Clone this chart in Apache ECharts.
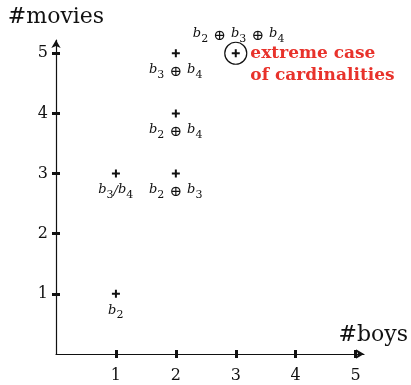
<!DOCTYPE html>
<html><head><meta charset="utf-8">
<script src="https://cdn.jsdelivr.net/npm/echarts@6/dist/echarts.min.js"></script>
<style>html,body{margin:0;padding:0;background:#fff}#c{width:411px;height:385px}</style>
</head><body><div id="c"></div>
<script>
const xTicks = [1, 2, 3, 4, 5];
const yTicks = [1, 2, 3, 4, 5];
const boys = [1, 1, 2, 2, 2, 3];
const movies = [1, 3, 3, 4, 5, 5];
const pointLabels = ['b_2', 'b_3/b_4', 'b_2 ⊕ b_3', 'b_2 ⊕ b_4', 'b_3 ⊕ b_4', 'b_2 ⊕ b_3 ⊕ b_4'];
const extremeIndex = 5;
const annotation = 'extreme case\nof cardinalities';
const xName = '#boys';
const yName = '#movies';

const FONT = 'DejaVu Serif';
const INK = '#111';
const plus = 'path://M3,0H5V3H8V5H5V8H3V5H0V3H3Z';

// turn "b_2 ⊕ b_3" into rich text pieces
function toRich(s) {
  return s.split(' ').map(tok => {
    if (tok === '⊕') return '{o|⊕}';
    return tok.split('/').map(part => {
      const m = part.match(/^(\w)_(\w)$/);
      return m ? '{v|' + m[1] + '}{s|' + m[2] + '}' : '{v|' + part + '}';
    }).join('{sl|/}');
  }).join('{sp| }') + '{z| }';
}

const rich = {
  v: { fontFamily: FONT, fontStyle: 'italic', fontSize: 13, color: INK, lineHeight: 15, verticalAlign: 'top' },
  s: { fontFamily: FONT, fontSize: 11, color: INK, lineHeight: 13, verticalAlign: 'bottom' },
  o: { fontFamily: FONT, fontSize: 15, color: INK, lineHeight: 17, verticalAlign: 'middle', padding: [0, 1, 0, 1] },
  sl: { fontFamily: FONT, fontStyle: 'italic', fontSize: 13, color: INK, lineHeight: 17, verticalAlign: 'middle' },
  sp: { fontFamily: FONT, fontSize: 13, lineHeight: 15 },
  z: { fontSize: 1, lineHeight: 17 }
};

const pts = boys.map((b, i) => ({
  value: [b, movies[i]],
  label: i === extremeIndex
    ? { position: 'top', distance: 5, offset: [3, 0] }
    : { position: 'bottom', distance: 6 }
}));

const tickCommon = { type: 'value', min: 0, interval: 1, splitLine: { show: false } };
const arrowLine = { lineStyle: { color: INK, width: 1.2 }, symbol: ['none', 'arrow'], symbolSize: [7, 8] };

const chart = echarts.init(document.getElementById('c'));
chart.setOption({
  animation: false,
  grid: { left: 56, right: 45, top: 40, bottom: 31 },
  xAxis: [
    Object.assign({}, tickCommon, {
      max: 5.14, position: 'bottom',
      name: xName, nameLocation: 'end', nameGap: 44,
      nameTextStyle: { fontFamily: FONT, fontSize: 22, color: INK, align: 'right', verticalAlign: 'bottom', padding: [0, 0, 8, 0] },
      axisLine: arrowLine,
      axisTick: { customValues: xTicks, length: 4, lineStyle: { color: INK, width: 3 } },
      axisLabel: { customValues: xTicks, margin: 14, fontFamily: FONT, fontSize: 16, color: INK }
    }),
    Object.assign({}, tickCommon, {
      max: 5.14, position: 'bottom',
      axisLine: { show: false },
      axisTick: { customValues: xTicks, inside: true, length: 4, lineStyle: { color: INK, width: 3 } },
      axisLabel: { show: false }
    })
  ],
  yAxis: [
    Object.assign({}, tickCommon, {
      max: 5.22, position: 'left',
      name: yName, nameLocation: 'end', nameGap: 12,
      nameTextStyle: { fontFamily: FONT, fontSize: 22, color: INK, align: 'center' },
      axisLine: arrowLine,
      axisTick: { customValues: yTicks, length: 4, lineStyle: { color: INK, width: 3 } },
      axisLabel: { customValues: yTicks, margin: 8, fontFamily: FONT, fontSize: 16, color: INK }
    }),
    Object.assign({}, tickCommon, {
      max: 5.22, position: 'left',
      axisLine: { show: false },
      axisTick: { customValues: yTicks, inside: true, length: 4, lineStyle: { color: INK, width: 3 } },
      axisLabel: { show: false }
    })
  ],
  series: [
    {
      type: 'scatter', xAxisIndex: 0, yAxisIndex: 0, z: 5,
      symbol: plus, symbolSize: 8,
      itemStyle: { color: INK, opacity: 1 },
      label: { show: true, formatter: p => toRich(pointLabels[p.dataIndex]), rich: rich },
      data: pts
    },
    {
      type: 'scatter', xAxisIndex: 0, yAxisIndex: 0,
      symbol: 'circle', symbolSize: 22,
      itemStyle: { color: 'rgba(0,0,0,0)', borderColor: INK, borderWidth: 1.2, opacity: 1 },
      label: {
        show: true, position: 'right', distance: 3, offset: [0, 11],
        formatter: annotation,
        fontFamily: FONT, fontWeight: 'bold', fontSize: 17, lineHeight: 22,
        color: '#e8322b', align: 'left'
      },
      data: [[boys[extremeIndex], movies[extremeIndex]]]
    }
  ]
});
</script></body></html>
